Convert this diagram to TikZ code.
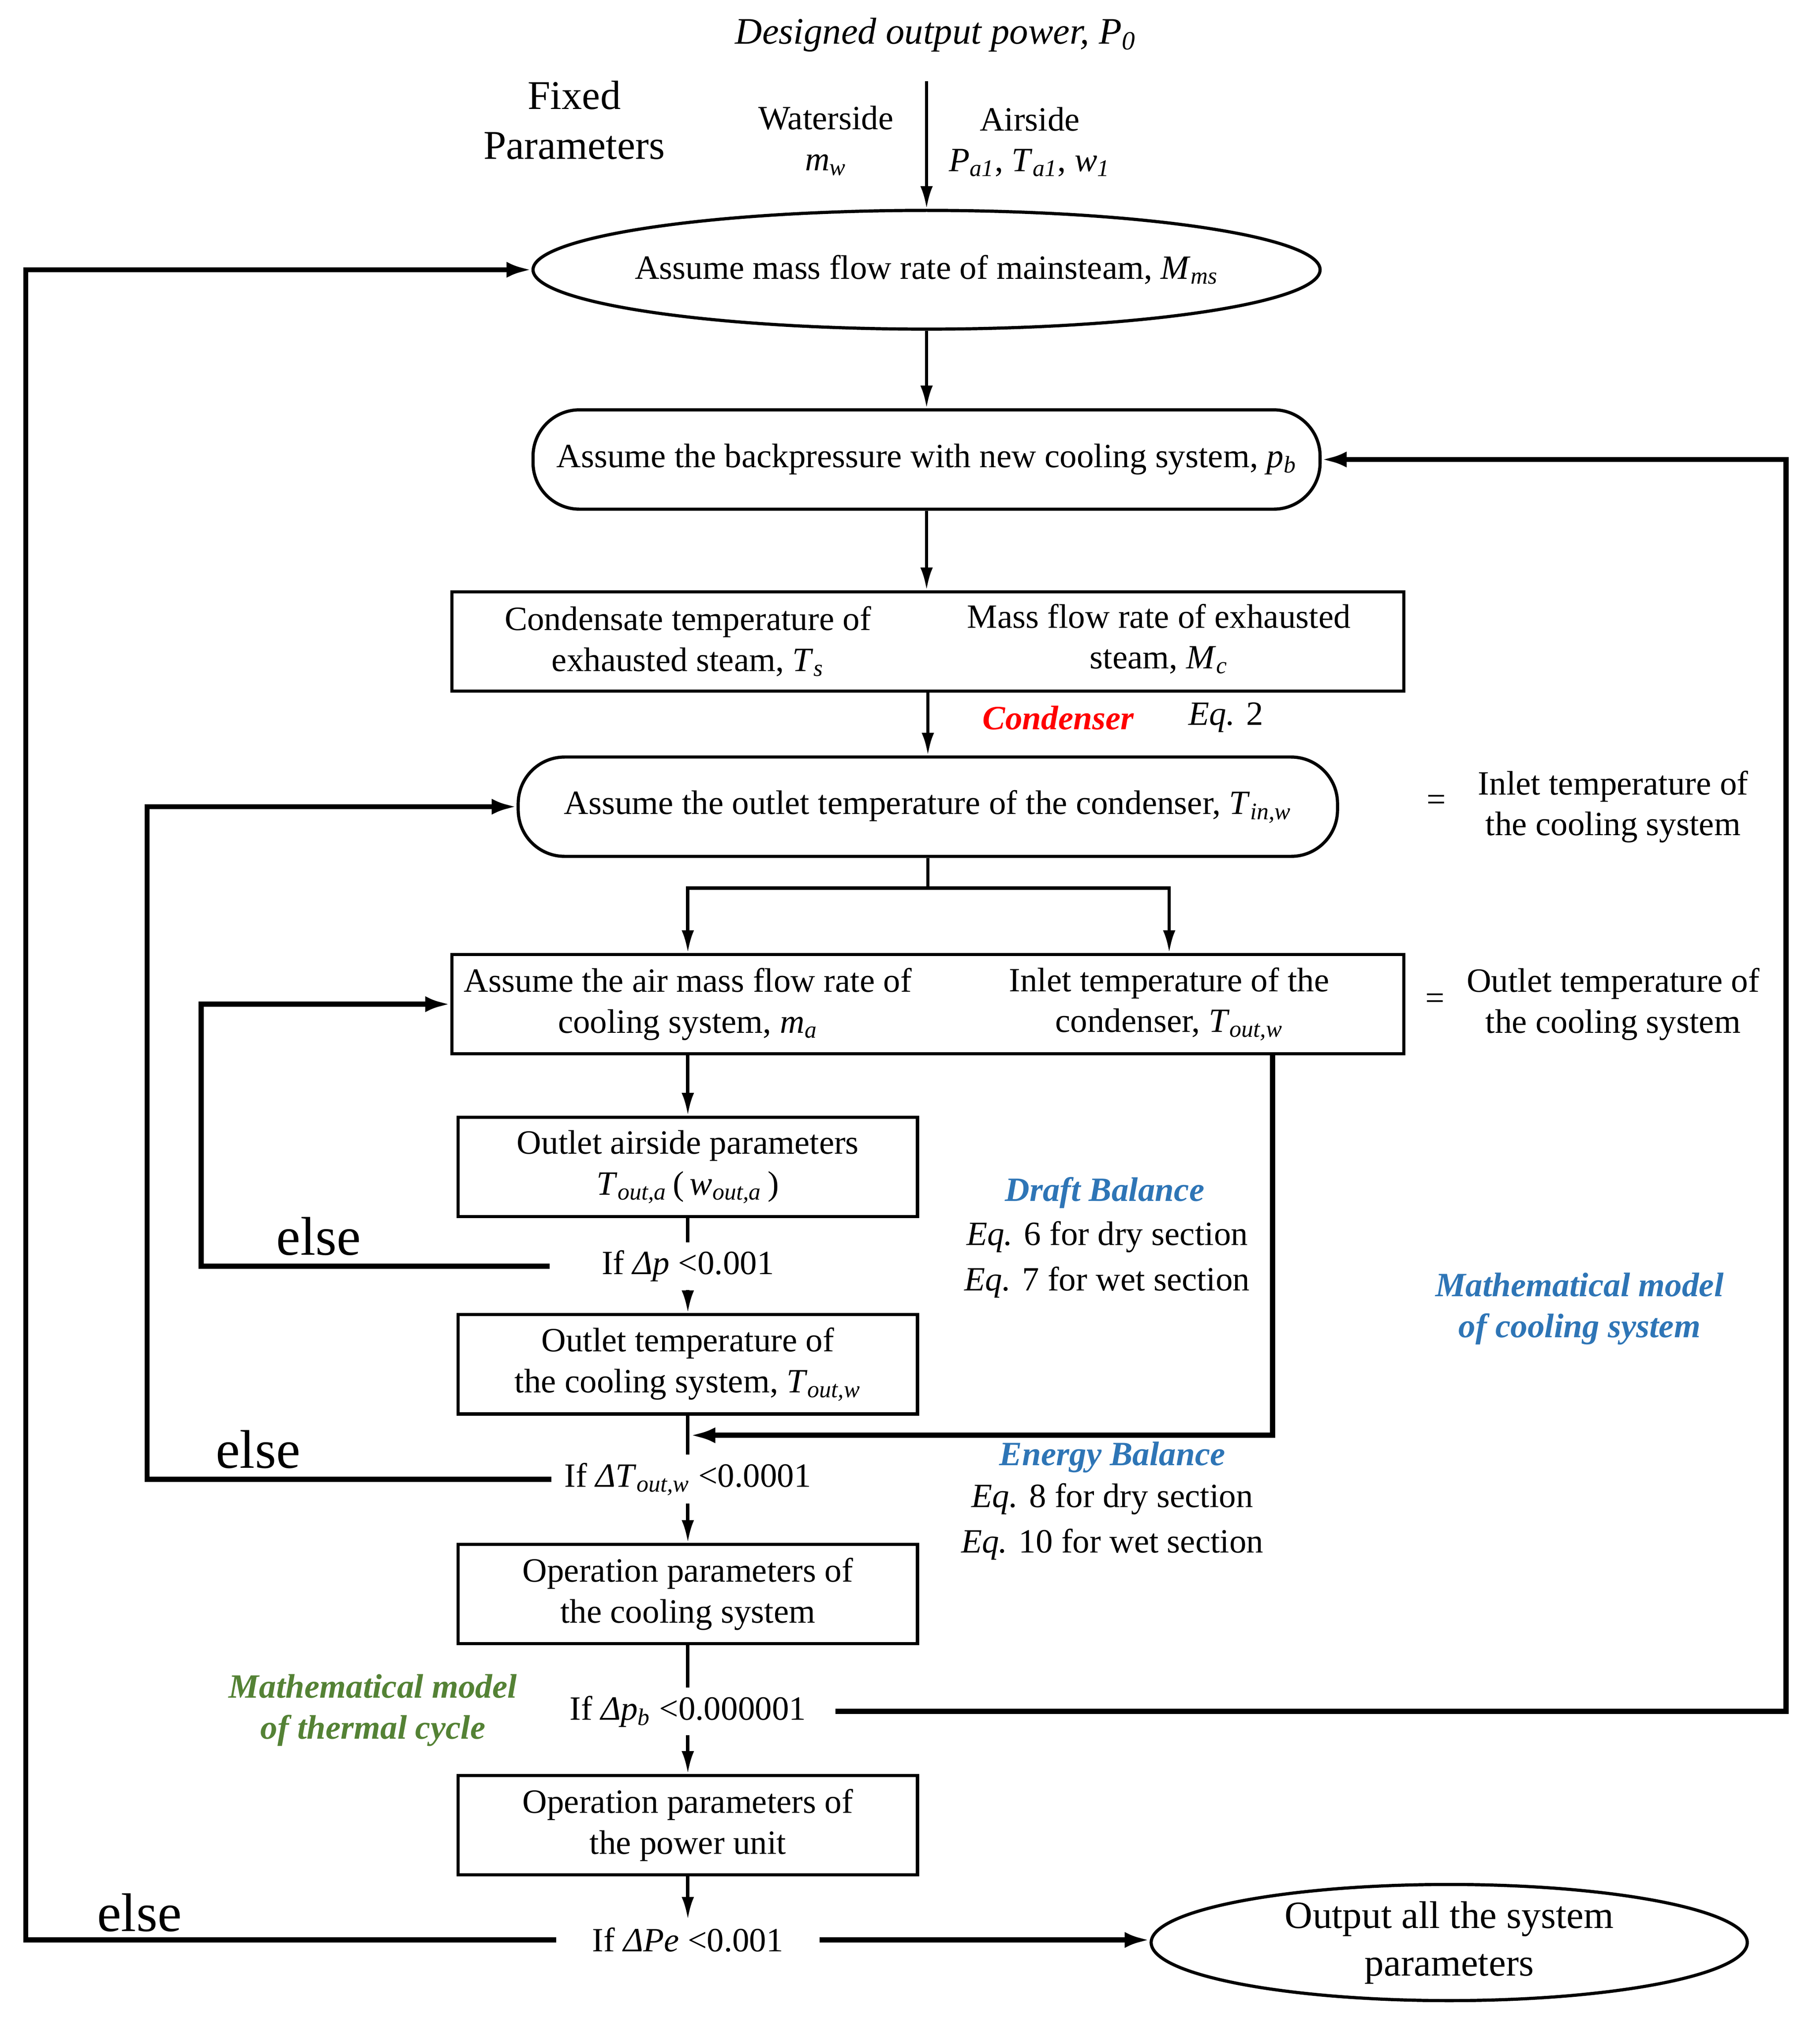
\documentclass[tikz,border=0pt]{standalone}
\usepackage{fontspec}
\setmainfont{Liberation Serif}
\usepackage{tikz}
\usetikzlibrary{arrows.meta,shapes.geometric}
\definecolor{modelblue}{RGB}{46,117,182}
\definecolor{modelgreen}{RGB}{84,130,53}
\newcommand{\vsub}[2]{\textit{#1}\textsubscript{\textit{#2}}}

\begin{document}
\begin{tikzpicture}[x=0.02cm, y=-0.02cm]
        \tikzset{every node/.style = {font=\fontsize{15}{18}\selectfont, align=center}}
        \tikzset{proc/.style = {shape=rectangle, draw, line width=1.4pt, minimum width=7.12cm, minimum height=1.54cm, inner sep=0pt}}
        \tikzset{wide/.style = {shape=rectangle, draw, line width=1.4pt, minimum width=14.76cm, minimum height=1.54cm, inner sep=0pt}}
        \tikzset{pill/.style = {shape=rectangle, draw, line width=1.4pt, rounded corners=0.72cm, minimum height=1.54cm, inner sep=0pt}}
        \tikzset{oval/.style = {shape=ellipse, draw, line width=1.4pt, inner sep=0pt}}
        \tikzset{cond/.style = {inner xsep=0.35cm, inner ysep=0.12cm}}
        \tikzset{edge/.style = {-{Latex[length=10pt,width=5.5pt]}, line width=1.5pt}}
        \tikzset{link/.style = {line width=1.5pt}}
        \tikzset{back/.style = {-{Latex[length=11pt,width=7pt]}, line width=2.3pt}}
        \tikzset{elsetxt/.style = {font=\fontsize{24}{28}\selectfont}}
        \tikzset{note/.style = {font=\fontsize{15}{18}\selectfont\bfseries\itshape}}

        \useasboundingbox (0, 0) rectangle (1410, 1572);

        \node (Title) at (725, 27) {\fontsize{16.5}{20}\selectfont\textit{Designed output power, P}\textsubscript{\textit{0}}};
        \node[font=\fontsize{18}{22}\selectfont] (Fixed) at (445, 93) {Fixed\\Parameters};
        \node (Water) at (640, 109) {Waterside\\\textit{m}\textsubscript{\textit{w}}};
        \node (Air) at (798, 110) {Airside\\\vsub{P}{a1}, \vsub{T}{a1}, \vsub{w}{1}};
        \coordinate (Top) at (718, 63);

        \node[oval, minimum width=12.2cm, minimum height=1.84cm] (E1) at (718, 209) {};
        \node at (E1) {Assume mass flow rate of mainsteam, \vsub{M}{ms}};

        \node[pill, minimum width=12.2cm] (B2) at (718, 356) {Assume the backpressure with new cooling system, \vsub{p}{b}};

        \node[wide] (B3) at (719, 497) {};
        \node (B3a) at (533, 497) {Condensate temperature of\\exhausted steam, \vsub{T}{s}};
        \node (B3b) at (898, 495) {Mass flow rate of exhausted\\steam, \vsub{M}{c}};
        \node[note, text=red] (Cond) at (820, 556) {Condenser};
        \node (Eq2) at (950, 556) {\textit{Eq.} 2};

        \node[pill, minimum width=12.7cm] (B4) at (719, 625) {Assume the outlet temperature of the condenser, \vsub{T}{in,w}};
        \node (Eq4) at (1113, 622) {=};
        \node (Inlet) at (1250, 625) {Inlet temperature of\\the cooling system};

        \node[wide] (B5) at (719, 778) {};
        \node (B5a) at (533, 778) {Assume the air mass flow rate of\\cooling system, \vsub{m}{a}};
        \node (B5b) at (906, 778) {Inlet temperature of the\\condenser, \vsub{T}{out,w}};
        \node (Eq5) at (1112, 776) {=};
        \node (Outlet) at (1250, 778) {Outlet temperature of\\the cooling system};

        \node[proc] (B6) at (533, 904) {Outlet airside parameters\\\vsub{T}{out,a}\,(\,\vsub{w}{out,a}\,)};
        \node[cond, inner xsep=0.8cm] (C1) at (533, 981) {If \textit{Δp} <0.001};
        \node[proc] (B7) at (533, 1057) {Outlet temperature of\\the cooling system, \vsub{T}{out,w}};
        \node[cond, inner xsep=0.2cm] (C2) at (533, 1146) {If \textit{ΔT}\textsubscript{\textit{out,w}} <0.0001};
        \node[proc] (B8) at (533, 1235) {Operation parameters of\\the cooling system};
        \node[cond, inner xsep=0.45cm] (C3) at (533, 1326) {If \textit{Δp}\textsubscript{\textit{b}} <0.000001};
        \node[proc] (B9) at (533, 1414) {Operation parameters of\\the power unit};
        \node[cond, inner xsep=0.55cm] (C4) at (533, 1503) {If \textit{ΔPe} <0.001};

        \node[oval, minimum width=9.24cm, minimum height=1.8cm] (E2) at (1123, 1505) {};
        \node[font=\fontsize{17}{21}\selectfont] at (E2) {Output all the system\\parameters};

        \node[note, text=modelblue] (Draft) at (856, 924) {Draft Balance};
        \node (Eq6) at (858, 976) {\textit{Eq.} 6 for dry section\\[2pt]\textit{Eq.} 7 for wet section};
        \node[note, text=modelblue] (Energy) at (862, 1129) {Energy Balance};
        \node (Eq8) at (862, 1179) {\textit{Eq.} 8 for dry section\\[2pt]\textit{Eq.} 10 for wet section};
        \node[note, text=modelblue] (CoolModel) at (1224, 1014) {Mathematical model\\of cooling system};
        \node[note, text=modelgreen] (CycleModel) at (289, 1325) {Mathematical model\\of thermal cycle};

        \node[elsetxt] (Else1) at (247, 958) {else};
        \node[elsetxt] (Else2) at (200, 1123) {else};
        \node[elsetxt] (Else3) at (108, 1482) {else};

        \coordinate (Sp) at (719, 688);
        \coordinate (Tr) at (986, 816);
        \coordinate (J2) at (535, 1112);
        \coordinate (L1) at (156, 0);
        \coordinate (L2) at (114, 0);
        \coordinate (L3) at (20, 0);
        \coordinate (R1) at (1384, 0);

        \draw[edge] (Top) to (E1.north);
        \draw[edge] (E1) to (B2);
        \draw[edge] (B2.south) to (B2.south |- B3.north);
        \draw[edge] (B3.south -| B4.north) to (B4.north);
        \draw[link] (B4.south) to (Sp);
        \draw[edge] (Sp) -| (B6.north |- B5.north);
        \draw[edge] (Sp) -| (B5b |- B5.north);
        \draw[edge] (B6.north |- B5.south) to (B6.north);

        \draw[link] (B6.south) to (C1.north);
        \draw[edge] (C1.south) to (B7.north);
        \draw[link] (B7.south) to (C2.north);
        \draw[edge] (C2.south) to (B8.north);
        \draw[link] (B8.south) to (C3.north);
        \draw[edge] (C3.south) to (B9.north);
        \draw[edge] (B9.south) to (C4.north);

        \draw[back] (Tr) |- (J2);
        \draw[back] (C1.west) -- (L1 |- C1.west) |- (B5.west);
        \draw[back] (C2.west) -- (L2 |- C2.west) |- (B4.west);
        \draw[back] (C4.west) -- (L3 |- C4.west) |- (E1.west);
        \draw[back] (C3.east) -- (R1 |- C3.east) |- (B2.east);
        \draw[back] (C4.east) -- (C4.east -| E2.west);
\end{tikzpicture}
\end{document}
